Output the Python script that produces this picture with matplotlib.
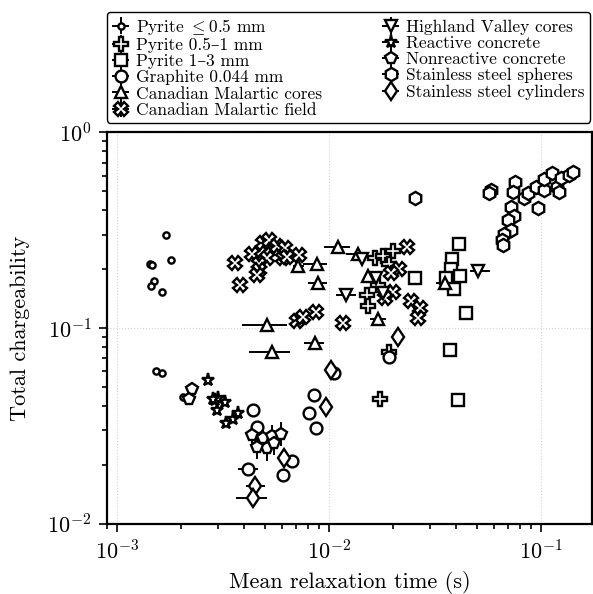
import matplotlib
matplotlib.use("Agg")
import matplotlib.pyplot as plt
import numpy as np

plt.rcParams['font.family'] = ['cmr10', 'DejaVu Serif']
plt.rcParams['mathtext.fontset'] = 'cm'
plt.rcParams['axes.formatter.use_mathtext'] = True
plt.rcParams['axes.unicode_minus'] = False

# --- data (tau in s, total chargeability) ---
pyr_small_x = [0.00171, 0.00180, 0.00143, 0.00146, 0.00150, 0.00145, 0.00163, 0.00153, 0.00163, 0.00206]
pyr_small_y = [0.300, 0.223, 0.212, 0.211, 0.173, 0.163, 0.152, 0.0605, 0.0587, 0.0446]

pyr_mid_x = [0.0166, 0.0180, 0.0201, 0.0192, 0.0171, 0.0151, 0.0153, 0.0174, 0.0192]
pyr_mid_y = [0.227, 0.234, 0.247, 0.212, 0.166, 0.148, 0.129, 0.0435, 0.0756]

pyr_big_x = [0.0411, 0.0381, 0.0378, 0.0417, 0.0358, 0.0256, 0.0389, 0.0442, 0.0374, 0.0406]
pyr_big_y = [0.268, 0.225, 0.200, 0.184, 0.180, 0.180, 0.158, 0.119, 0.0772, 0.0427]

graph_x = [0.00437, 0.00457, 0.00417, 0.00605, 0.00667, 0.00853, 0.00808, 0.00866, 0.0106, 0.0192]
graph_y = [0.0381, 0.0311, 0.0190, 0.0177, 0.0209, 0.0453, 0.0369, 0.0307, 0.0587, 0.0714]
graph_xlo = [0.00437, 0.00457, 0.00373, 0.00605, 0.00667, 0.00853, 0.00808, 0.00866, 0.0106, 0.0192]
graph_xhi = [0.00437, 0.00457, 0.00463, 0.00605, 0.00667, 0.00853, 0.00808, 0.00866, 0.0106, 0.0192]

cm_cores_x = [0.00509, 0.00537, 0.00717, 0.00875, 0.00890, 0.00859, 0.0111, 0.0137, 0.0153, 0.0352, 0.0171]
cm_cores_y = [0.104, 0.0756, 0.207, 0.212, 0.169, 0.0835, 0.260, 0.238, 0.185, 0.169, 0.111]
cm_cores_xlo = [0.00391, 0.00420, 0.00680, 0.00754, 0.00796, 0.00763, 0.00947, 0.0121, 0.0150, 0.0319, 0.0156]
cm_cores_xhi = [0.00632, 0.00655, 0.00760, 0.00979, 0.00979, 0.00947, 0.0126, 0.0151, 0.0157, 0.0392, 0.0187]

cm_field_x = [0.00362, 0.00381, 0.00432, 0.00487, 0.00520, 0.00567, 0.00621, 0.00509, 0.00470,
              0.00470, 0.00457, 0.00605, 0.00632, 0.00725, 0.00705, 0.00757, 0.00869, 0.0117,
              0.0234, 0.0214, 0.0197, 0.0201, 0.0184, 0.0243, 0.0270, 0.0263]
cm_field_y = [0.216, 0.165, 0.238, 0.273, 0.282, 0.262, 0.255, 0.227, 0.212,
              0.198, 0.187, 0.227, 0.230, 0.236, 0.108, 0.114, 0.120, 0.106,
              0.260, 0.200, 0.192, 0.152, 0.143, 0.137, 0.127, 0.113]

hv_x = [0.0120, 0.0144, 0.0167, 0.0180, 0.0505]
hv_y = [0.148, 0.224, 0.180, 0.151, 0.196]
hv_xlo = [0.0108, 0.0140, 0.0162, 0.0175, 0.0462]
hv_xhi = [0.0134, 0.0148, 0.0172, 0.0186, 0.0573]

react_x = [0.00268, 0.00290, 0.00324, 0.00296, 0.00327, 0.00354, 0.00374, 0.00301, 0.00283]
react_y = [0.0543, 0.0429, 0.0420, 0.0381, 0.0326, 0.0344, 0.0366, 0.0437, 0.0432]

nonreact_x = [0.00226, 0.00220, 0.00432, 0.00490, 0.00537, 0.00594, 0.00509, 0.00457, 0.00551]
nonreact_y = [0.0486, 0.0435, 0.0284, 0.0273, 0.0281, 0.0286, 0.0243, 0.0247, 0.0258]
nonreact_ylo = [0.0486, 0.0435, 0.0250, 0.0235, 0.0245, 0.0250, 0.0210, 0.0215, 0.0225]
nonreact_yhi = [0.0486, 0.0435, 0.0320, 0.0310, 0.0320, 0.0330, 0.0280, 0.0285, 0.0300]

sph_x = [0.0256, 0.0584, 0.0569, 0.0758, 0.0738, 0.0829, 0.0869, 0.0951, 0.103, 0.103, 0.113,
         0.119, 0.122, 0.125, 0.136, 0.141, 0.0968, 0.0720, 0.0744, 0.0702, 0.0720, 0.0669,
         0.0658, 0.0662]
sph_y = [0.460, 0.507, 0.488, 0.559, 0.494, 0.463, 0.488, 0.527, 0.507, 0.577, 0.622,
         0.527, 0.497, 0.582, 0.605, 0.629, 0.409, 0.414, 0.374, 0.356, 0.317, 0.302,
         0.282, 0.266]

cyl_x = [0.0102, 0.00975, 0.00616, 0.00448, 0.00437, 0.0212]
cyl_y = [0.0610, 0.0393, 0.0217, 0.0155, 0.0136, 0.0897]
cyl_xlo = [0.0102, 0.00975, 0.00616, 0.00406, 0.00365, 0.0212]
cyl_xhi = [0.0102, 0.00975, 0.00616, 0.00499, 0.00511, 0.0212]

labels = [r'Pyrite $\leq 0.5$ mm', 'Pyrite 0.5–1 mm', 'Pyrite 1–3 mm', 'Graphite 0.044 mm',
          'Canadian Malartic cores', 'Canadian Malartic field', 'Highland Valley cores',
          'Reactive concrete', 'Nonreactive concrete', 'Stainless steel spheres',
          'Stainless steel cylinders']


def errs(v, lo=None, hi=None):
    v = np.asarray(v)
    if lo is None:
        return np.zeros((2, len(v)))
    return np.array([v - np.asarray(lo), np.asarray(hi) - v])


series = [
    (pyr_small_x, pyr_small_y, None, None, None, None, 'o', 4.5),
    (pyr_mid_x, pyr_mid_y, None, None, None, None, 'P', 9.5),
    (pyr_big_x, pyr_big_y, None, None, None, None, 's', 8.5),
    (graph_x, graph_y, graph_xlo, graph_xhi, None, None, 'o', 8.5),
    (cm_cores_x, cm_cores_y, cm_cores_xlo, cm_cores_xhi, None, None, '^', 8.5),
    (cm_field_x, cm_field_y, None, None, None, None, 'X', 9.5),
    (hv_x, hv_y, hv_xlo, hv_xhi, None, None, 'v', 8.5),
    (react_x, react_y, None, None, None, None, '*', 9.5),
    (nonreact_x, nonreact_y, None, None, nonreact_ylo, nonreact_yhi, 'p', 8.5),
    (sph_x, sph_y, None, None, None, None, 'h', 9.5),
    (cyl_x, cyl_y, cyl_xlo, cyl_xhi, None, None, 'd', 9.5),
]

fig = plt.figure(figsize=(5.93, 5.94), dpi=100)
ax = fig.add_axes([0.18, 0.1184, 0.819, 0.6589])

handles = []
for (x, y, xlo, xhi, ylo, yhi, m, ms), lab in zip(series, labels):
    h = ax.errorbar(x, y, xerr=errs(x, xlo, xhi), yerr=errs(y, ylo, yhi), fmt=m, ms=ms,
                    mfc='white', mec='black', mew=1.7, ecolor='black', elinewidth=1.4,
                    capsize=0, label=lab)
    handles.append(h)

ax.set_xscale('log')
ax.set_yscale('log')
ax.set_xlim(0.000897, 0.175)
ax.set_ylim(0.01, 1)
ax.set_xlabel('Mean relaxation time (s)', fontsize=16, labelpad=6)
ax.set_ylabel('Total chargeability', fontsize=16, labelpad=12)
ax.tick_params(which='both', direction='out', labelsize=16, width=1.2, pad=5)
ax.tick_params(which='major', length=6)
ax.tick_params(which='minor', length=3.8)
ax.grid(True, which='major', ls=':', color='lightgray', lw=0.8)
for s in ax.spines.values():
    s.set_linewidth(1.6)

fig.legend(handles=handles, labels=labels, loc='lower left', ncol=2,
           bbox_to_anchor=(0.18, 0.793, 0.815, 0.2), mode='expand',
           fontsize=12.5, frameon=True, fancybox=True, edgecolor='black',
           framealpha=1, handletextpad=0.4, borderaxespad=0, labelspacing=0.05,
           handlelength=1.0, borderpad=0.3, columnspacing=0.8)

fig.savefig('out.png', dpi=100)
